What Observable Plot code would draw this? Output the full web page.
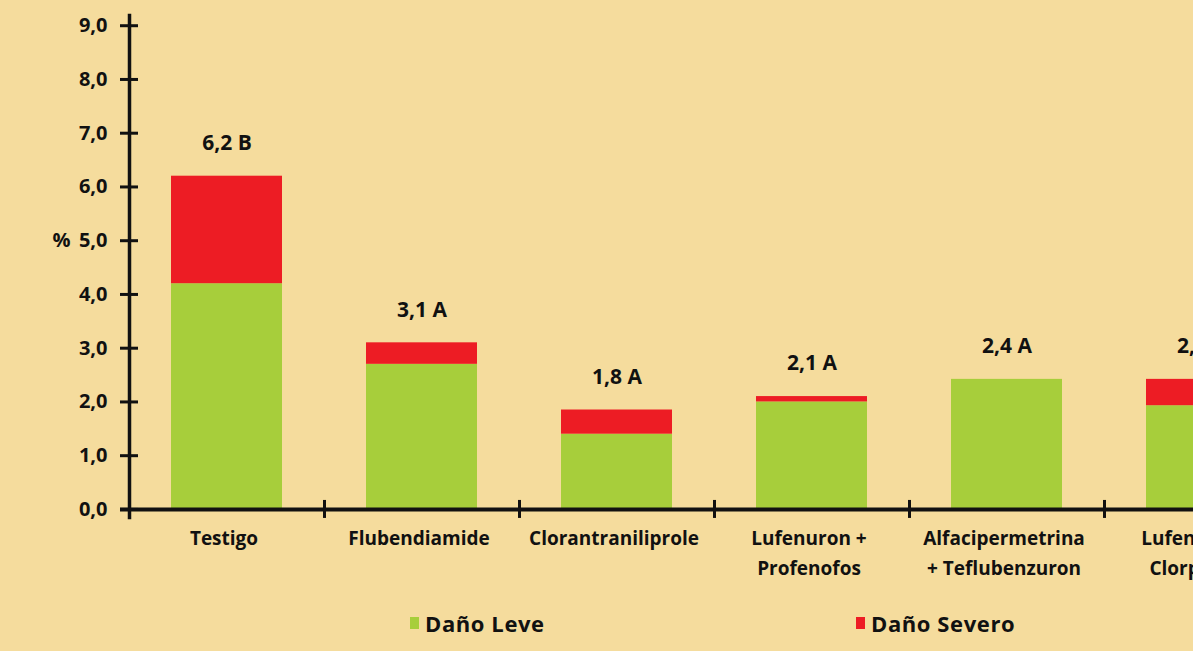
<!DOCTYPE html>
<html>
<head>
<meta charset="utf-8">
<script src="https://cdn.jsdelivr.net/npm/d3@7"></script>
<script src="https://cdn.jsdelivr.net/npm/@observablehq/plot@0.6"></script>
<style>
  html, body { margin: 0; padding: 0; background: #F5DC9D; overflow: hidden; width: 1193px; height: 651px; }
  #chart { width: 1310px; }
  #chart svg { display: block; max-width: none !important; width: 1310px !important; height: 600px !important; }
  #legend { position: relative; height: 51px; font-family: "Open Sans", sans-serif; font-weight: bold; font-size: 22px; letter-spacing: 0.6px; color: #111; }
  .item { position: absolute; top: 8px; display: flex; align-items: center; }
  .sw { width: 9px; height: 12px; margin-right: 6px; }
</style>
</head>
<body>
<div id="chart"></div>
<div id="legend"></div>
<script>
// ---- data ----
const categories = ["Testigo", "Flubendiamide", "Clorantraniliprole", "Lufenuron + Profenofos", "Alfacipermetrina + Teflubenzuron", "Lufenuron + Clorpirifos"];
const categoryLabels = ["Testigo", "Flubendiamide", "Clorantraniliprole", "Lufenuron +\nProfenofos", "Alfacipermetrina\n+ Teflubenzuron", "Lufenuron +\nClorpirifos"];
const danoLeve   = [4.2, 2.7, 1.4, 2.0, 2.42, 1.93];
const danoSevero = [2.0, 0.4, 0.45, 0.1, 0.0, 0.49];
const totalLabels = ["6,2 B", "3,1 A", "1,8 A", "2,1 A", "2,4 A", "2,4 A"];
const seriesNames = ["Daño Leve", "Daño Severo"];
const seriesColors = ["#A7CE3B", "#ED1C24"];
const yTicks = [0, 1, 2, 3, 4, 5, 6, 7, 8, 9];

// ---- build table ----
const rows = [];
categories.forEach((c, i) => {
  rows.push({cat: c, serie: seriesNames[0], v: danoLeve[i]});
  rows.push({cat: c, serie: seriesNames[1], v: danoSevero[i]});
});
const totals = categories.map((c, i) => ({cat: c, total: danoLeve[i] + danoSevero[i], label: totalLabels[i]}));

const width = 1310, height = 600;
const marginLeft = 129, marginRight = 11, marginTop = 15, marginBottom = 83;
const plotW = width - marginLeft - marginRight;
const step = plotW / categories.length;
const font = "'Open Sans', sans-serif";

const chart = Plot.plot({
  width, height, marginLeft, marginRight, marginTop, marginBottom,
  style: {background: "transparent", fontFamily: font, color: "#111"},
  x: {domain: categories, paddingInner: 0.43, paddingOuter: 0.215, label: null},
  y: {domain: [-0.15, 9.19], label: null},
  color: {domain: seriesNames, range: seriesColors},
  marks: [
    Plot.barY(rows, {x: "cat", y: "v", fill: "serie"}),
    // y axis line
    Plot.frame({anchor: "left", strokeWidth: 3.5, stroke: "#111"}),
    // crossing y ticks
    Plot.ruleY(yTicks, {y: d => d, insetLeft: -9, insetRight: plotW - 9, strokeWidth: 3, stroke: "#111"}),
    Plot.axisY({ticks: yTicks, tickSize: 0, tickPadding: 22, tickFormat: d => d.toFixed(1).replace(".", ","), fontSize: 20, fontWeight: "bold", label: null}),
    // x axis line
    Plot.ruleY([0], {insetLeft: -9, strokeWidth: 4, stroke: "#111"}),
    // band boundary ticks on x axis
    Plot.ruleX(categories, {x: d => d, dx: step / 2, y1: () => 0, y2: () => 0, insetTop: -9, insetBottom: -9, strokeWidth: 3, stroke: "#111"}),
    Plot.axisX({tickSize: 0, tickPadding: 6, dx: -3, fontSize: 19, fontWeight: "bold", lineHeight: 1.58, tickFormat: (d) => categoryLabels[categories.indexOf(d)], label: null}),
    // value labels
    Plot.text(totals, {x: "cat", y: "total", text: "label", dy: -33, fontSize: 21, fontWeight: "bold", fill: "#111"}),
    // % label
    Plot.text(["%"], {y: () => 5, frameAnchor: "left", dx: -59, textAnchor: "end", fontSize: 20, fontWeight: "bold", fill: "#111"})
  ]
});
document.getElementById("chart").appendChild(chart);

// legend
const legend = document.getElementById("legend");
const legendLeft = [410, 856];
seriesNames.forEach((s, i) => {
  const it = document.createElement("div");
  it.className = "item";
  it.style.left = legendLeft[i] + "px";
  it.innerHTML = `<span class="sw" style="background:${seriesColors[i]}"></span><span>${s}</span>`;
  legend.appendChild(it);
});
</script>
</body>
</html>
